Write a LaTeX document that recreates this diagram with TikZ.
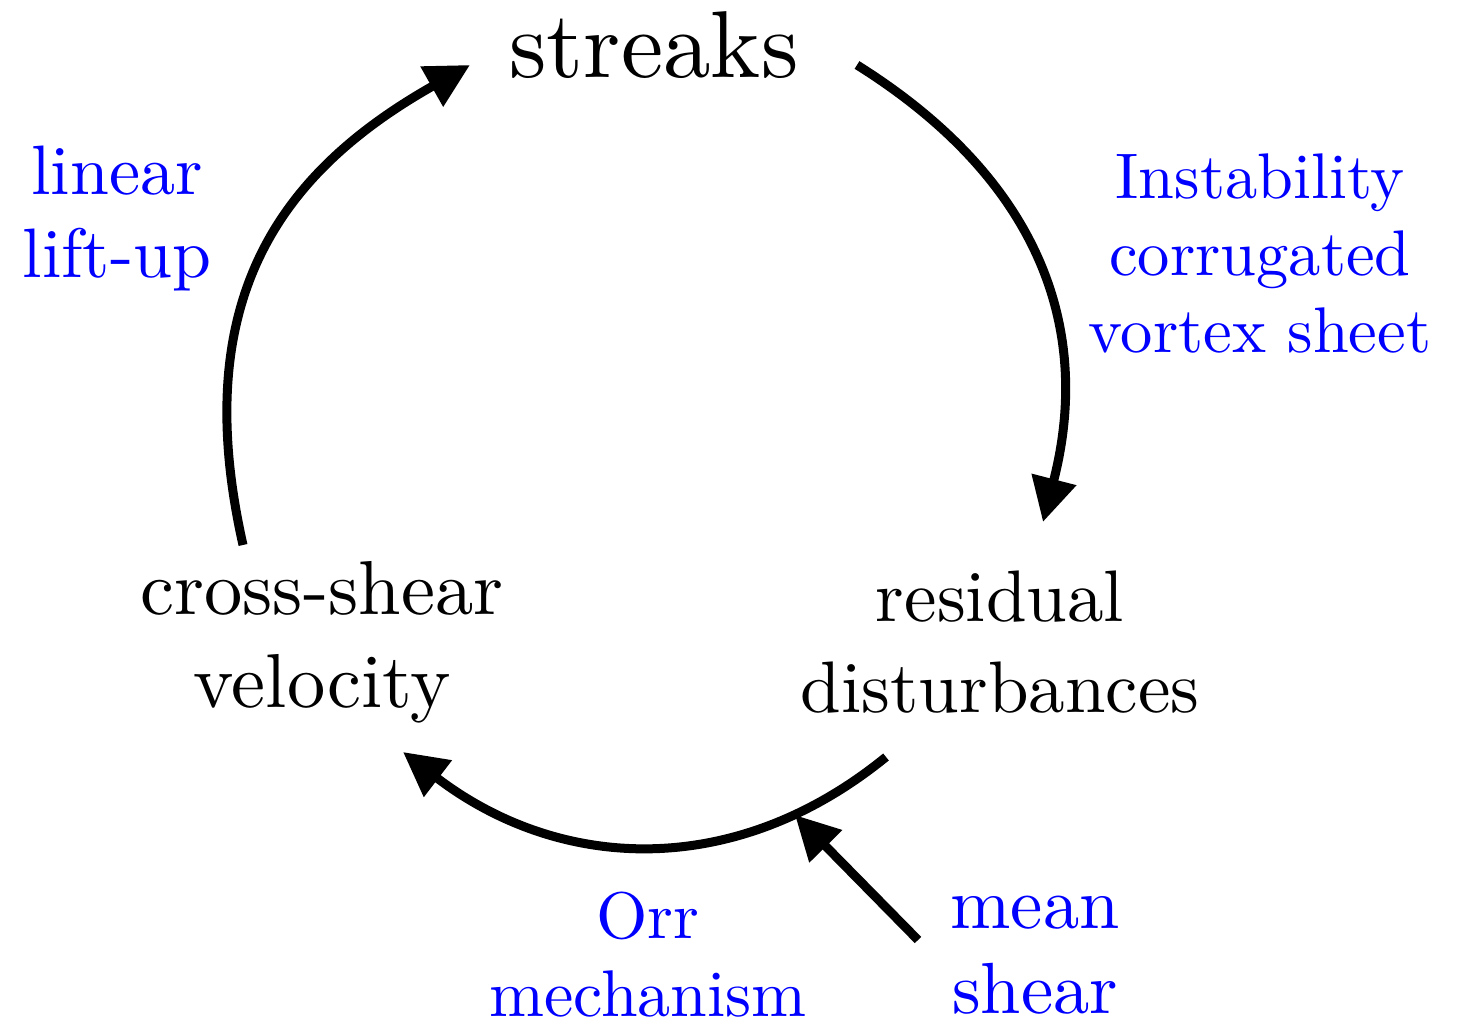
\documentclass[tikz,border=0pt]{standalone}
\usepackage{fontspec}
% the 10pt design of Latin Modern, scaled up
\setmainfont{lmroman10-regular.otf}
\usetikzlibrary{arrows.meta}
\tikzset{
  flow/.style={line width=9pt, -{Triangle[length=44pt,width=44pt]}},
  stage/.style={font=\fontsize{76.5}{93}\selectfont, align=center, anchor=base, inner sep=0pt},
  mainstage/.style={font=\fontsize{95}{110}\selectfont, anchor=base, inner sep=0pt},
  mech/.style={text=blue, align=center, anchor=base, inner sep=0pt}
}
\begin{document}
\begin{tikzpicture}[x=1pt,y=1pt]
  \useasboundingbox (0,0) rectangle (1469,1025);
  % stages of the cycle (anchored at the baseline of the last line)
  \node[mainstage] (streaks) at (654,947) {streaks};
  \node[stage] (cross) at (322,317) {cross-shear\\velocity};
  \node[stage, font=\fontsize{73}{91}\selectfont] (resid) at (1000,312) {residual\\disturbances};
  % mechanisms
  \node[mech, font=\fontsize{70}{83}\selectfont] (lift) at (117,747) {linear\\lift-up};
  \node[mech, font=\fontsize{64.5}{77}\selectfont] (inst) at (1260,672) {Instability\\corrugated\\vortex sheet};
  \node[mech, font=\fontsize{66}{78}\selectfont] (orr) at (648,9) {Orr\\mechanism};
  \node[mech, font=\fontsize{72.5}{85}\selectfont] (mean) at (1035,12) {mean\\shear};
  % end points of the connectors
  \coordinate (s1) at (857,960);
  \coordinate (e1) at (1043,503);
  \coordinate (s2) at (886,268);
  \coordinate (e2) at (403,273);
  \coordinate (s3) at (243,480);
  \coordinate (e3) at (470,960);
  \coordinate (touch) at (795,210);
  \coordinate (shearfoot) at (918,85);
  % streaks -> residual disturbances
  \draw[flow] (s1) .. controls (1039,846) and (1093,697) .. (e1);
  % residual disturbances -> cross-shear velocity
  \draw[flow] (s2) .. controls (735,145) and (560,153) .. (e2);
  % cross-shear velocity -> streaks
  \draw[flow] (s3) .. controls (188,724) and (279,852) .. (e3);
  % mean shear feeding the Orr mechanism
  \draw[flow] (shearfoot) -- (touch);
\end{tikzpicture}
\end{document}
